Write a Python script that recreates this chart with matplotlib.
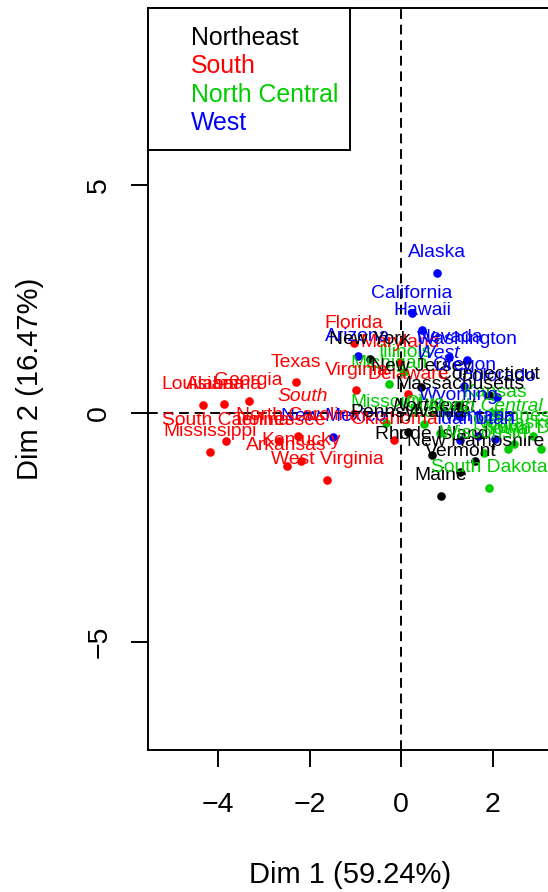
import matplotlib
matplotlib.use("Agg")
import matplotlib.pyplot as plt
from matplotlib.patches import Rectangle

plt.rcParams["font.family"] = ["Liberation Sans", "DejaVu Sans"]

# individuals (coordinates)
states = ["Alabama", "Alaska", "Arizona", "Arkansas", "California", "Colorado",
          "Connecticut", "Delaware", "Florida", "Georgia", "Hawaii", "Idaho",
          "Illinois", "Indiana", "Iowa", "Kansas", "Kentucky", "Louisiana",
          "Maine", "Maryland", "Massachusetts", "Michigan", "Minnesota",
          "Mississippi", "Missouri", "Montana", "Nebraska", "Nevada",
          "New Hampshire", "New Jersey", "New Mexico", "New York",
          "North Carolina", "North Dakota", "Ohio", "Oklahoma", "Oregon",
          "Pennsylvania", "Rhode Island", "South Carolina", "South Dakota",
          "Tennessee", "Texas", "Utah", "Vermont", "Virginia", "Washington",
          "West Virginia", "Wisconsin", "Wyoming"]
region = ["South", "West", "West", "South", "West", "West",
          "Northeast", "South", "South", "South", "West", "West",
          "North Central", "North Central", "North Central", "North Central", "South", "South",
          "Northeast", "South", "Northeast", "North Central", "North Central",
          "South", "North Central", "West", "North Central", "West",
          "Northeast", "Northeast", "West", "Northeast",
          "South", "North Central", "North Central", "South", "West",
          "Northeast", "Northeast", "South", "North Central",
          "South", "South", "West", "Northeast", "South", "West",
          "South", "North Central", "West"]
dim1 = [-3.87, 0.78, -0.95, -2.50, 0.23, 2.09,
        1.91, 0.15, -1.03, -3.33, 0.46, 1.29,
        0.07, 0.85, 2.34, 2.05, -2.19, -4.33,
        0.87, -0.02, 1.27, -0.26, 2.88,
        -4.17, -0.33, 1.68, 2.45, 1.05,
        1.62, 0.44, -1.48, -0.68,
        -2.26, 3.04, 0.50, -0.15, 1.38,
        0.15, 0.67, -3.83, 1.91,
        -2.66, -2.30, 2.05, 1.29, -0.98, 1.44,
        -1.62, 1.80, 1.25]
dim2 = [0.20, 3.08, 1.25, -1.15, 2.19, 0.36,
        0.40, 0.42, 1.53, 0.27, 1.82, -0.58,
        0.90, -0.43, -0.79, 0.01, -1.04, 0.18,
        -1.81, 1.12, 0.18, 0.64, -0.50,
        -0.84, -0.21, -0.50, -0.67, 1.23,
        -1.05, 0.58, -0.51, 1.18,
        -0.49, -0.78, -0.23, -0.58, 0.60,
        -0.42, -0.91, -0.60, -1.63,
        -0.60, 0.68, -0.57, -1.28, 0.50, 1.17,
        -1.46, -0.88, -0.06]

# supplementary categories (region centroids)
groups = ["Northeast", "South", "North Central", "West"]
group_dim1 = [0.72, -2.16, 1.83, 0.81]
group_dim2 = [-0.30, -0.08, -0.30, 0.86]
group_colors = ["black", "#FF0000", "#00CD00", "#0000FF"]

xlabel = "Dim 1 (59.24%)"
ylabel = "Dim 2 (16.47%)"

W, H = 548, 892
fig = plt.figure(figsize=(W / 100, H / 100), dpi=100)
fig.patch.set_facecolor("white")

# axes box in pixels: left 148, right ~552 (just off the image), top 8, bottom 750
L, R, T, B = 148.3, 552.0, 8.0, 750.0
ax = fig.add_axes([L / W, (H - B) / H, (R - L) / W, (B - T) / H])
ax.set_xlim(-5.52, 3.29)
ax.set_ylim(-7.37, 8.87)

col = dict(zip(groups, group_colors))
lw = 1.4
lab_size = 13.9
lab_off = 11.2

ax.axvline(0, color="black", lw=lw, dashes=(5, 3))
ax.axhline(0, color="black", lw=lw, dashes=(5, 3))

for x, y, r in zip(dim1, dim2, region):
    ax.plot(x, y, "o", color=col[r], markersize=6.2, markeredgewidth=0)

for name, x, y, r in zip(states, dim1, dim2, region):
    ax.annotate(name, (x, y), xytext=(0, lab_off), textcoords="offset points",
                ha="center", va="baseline", fontsize=lab_size, color=col[r])

for g, x, y, c in zip(groups, group_dim1, group_dim2, group_colors):
    ax.annotate(g, (x, y), xytext=(0, lab_off), textcoords="offset points",
                ha="center", va="baseline", fontsize=lab_size, color=c,
                style="italic")

for s in ax.spines.values():
    s.set_linewidth(lw)

ax.set_xticks([-4, -2, 0, 2])
ax.set_yticks([-5, 0, 5])
ax.set_yticklabels(["\u22125", "0", "5"], rotation=90, va="center")
ax.tick_params(axis="both", direction="out", length=12, width=lw,
               labelsize=20.5, color="black")
ax.tick_params(axis="x", pad=18)
ax.tick_params(axis="y", pad=14)

fig.text(350 / W, 1 - 875 / H, xlabel, ha="center", va="center", fontsize=21)
fig.text(30 / W, 1 - 379 / H, ylabel, ha="center", va="center", fontsize=21,
         rotation=90)

# legend box
fig.patches.append(Rectangle((L / W, 1 - 150 / H), (350 - L) / W, (150 - T) / H,
                             transform=fig.transFigure, facecolor="white",
                             edgecolor="black", lw=lw, zorder=5))
for g, c, yy in zip(groups, group_colors, [38, 66, 95, 123]):
    fig.text(191 / W, 1 - yy / H, g, color=c, fontsize=17.9, ha="left",
             va="center", zorder=6)

fig.savefig("out.png", dpi=100)
